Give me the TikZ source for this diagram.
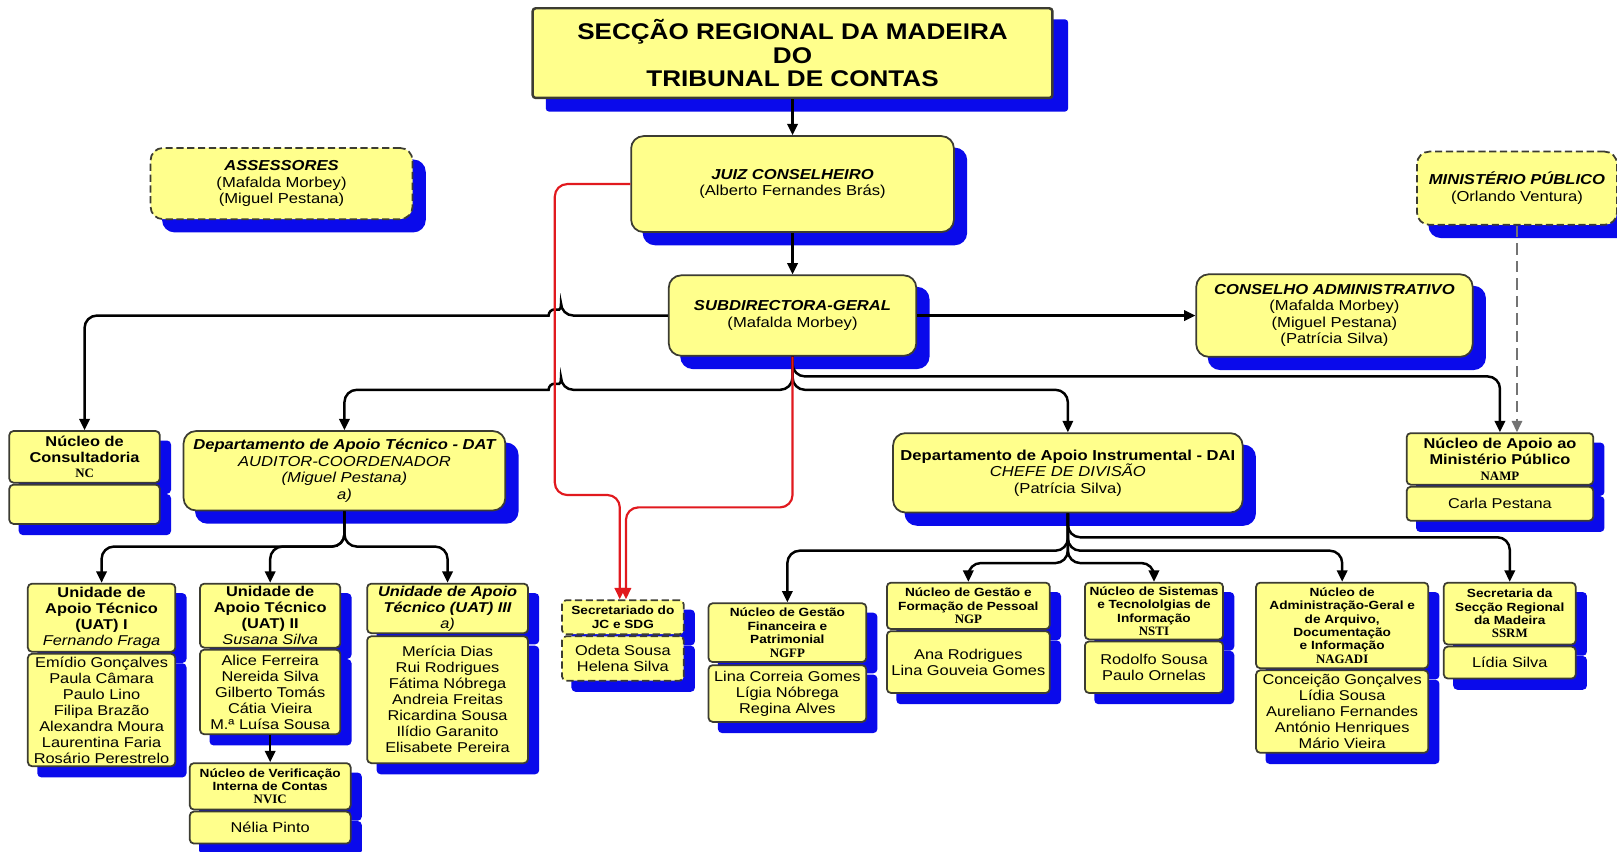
\documentclass[tikz,border=0pt]{standalone}
\usepackage{fontspec}
\setmainfont{Liberation Sans}[FakeStretch=1.15]
\newfontfamily\acrfont{Liberation Serif}
\usetikzlibrary{arrows.meta,calc,backgrounds}

\definecolor{boxfill}{RGB}{255,255,140}
\definecolor{boxline}{RGB}{60,60,50}
\definecolor{shadeblue}{RGB}{10,10,235}
\definecolor{redline}{RGB}{225,25,30}

\newcommand\bigtxt{\fontsize{14}{16}\selectfont}
\newcommand\nametxt{\fontsize{13.8}{15.5}\selectfont}
\newcommand\headtxt{\fontsize{11.5}{13}\selectfont\bfseries}
\newcommand\acr[1]{{\acrfont\bfseries\fontsize{12.5}{13}\selectfont #1}}

\tikzset{every picture/.style={line width=0.75pt},
  bigbox/.style={draw=boxline, line width=1.7pt, fill=boxfill, rounded corners=12, align=center, inner sep=0pt, font=\bigtxt},
  smallbox/.style={bigbox, rounded corners=4, font=\nametxt},
  headbox/.style={smallbox, font=\headtxt},
  dashbox/.style={dash pattern=on 7pt off 3.5pt},
  orgarrow/.style={draw=black, line width=2.4pt, rounded corners=12, -{Triangle[length=11pt,width=10pt]}},
  redarrow/.style={orgarrow, draw=redline, line width=2.1pt},
  dasharrow/.style={orgarrow, draw=black!55, line width=2pt, dash pattern=on 11pt off 6pt}
}

\begin{document}
\begin{tikzpicture}[x=1pt,y=1pt,yscale=-1,xscale=1]
\useasboundingbox (0,0) rectangle (1568,826);

%Shape: top boxes
\node[bigbox, rounded corners=3, line width=2.4pt, minimum width=504, minimum height=87, font=\fontsize{22}{23}\selectfont\bfseries] (title) at (768.5,51.5) {SECÇÃO REGIONAL DA MADEIRA\\DO\\TRIBUNAL DE CONTAS};
\node[bigbox, minimum width=313, minimum height=93] (jc) at (768.5,178.5) {\textbf{\textit{JUIZ CONSELHEIRO}}\\(Alberto Fernandes Brás)};
\node[bigbox, minimum width=240, minimum height=78] (sub) at (768.5,306) {\textbf{\textit{SUBDIRECTORA-GERAL}}\\(Mafalda Morbey)};
\node[bigbox, dashbox, minimum width=254, minimum height=69] (ass) at (273,178) {\textbf{\textit{ASSESSORES}}\\(Mafalda Morbey)\\(Miguel Pestana)};
\node[bigbox, dashbox, minimum width=194, minimum height=71] (mp) at (1471,182.5) {\textbf{\textit{MINISTÉRIO PÚBLICO}}\\(Orlando Ventura)};
\node[bigbox, minimum width=268, minimum height=80] (cons) at (1294,306) {\textbf{\textit{CONSELHO ADMINISTRATIVO}}\\(Mafalda Morbey)\\(Miguel Pestana)\\(Patrícia Silva)};

%Shape: second level
\node[smallbox, font=\nametxt\bfseries, minimum width=146, minimum height=50] (nc) at (82,443) {Núcleo de\\Consultadoria\\\acr{NC}};
\node[smallbox, minimum width=146, minimum height=38] (ncb) at (82,489) {};
\node[bigbox, font=\bigtxt\itshape, minimum width=312, minimum height=77] (dat) at (334,456.5) {\textbf{Departamento de Apoio Técnico - DAT}\\AUDITOR-COORDENADOR\\(Miguel Pestana)\\a)};
\node[bigbox, minimum width=339, minimum height=77] (dai) at (1035.5,458.5) {\textbf{Departamento de Apoio Instrumental - DAI}\\\textit{CHEFE DE DIVISÃO}\\(Patrícia Silva)};
\node[smallbox, font=\nametxt\bfseries, minimum width=181, minimum height=50] (namp) at (1454.5,445) {Núcleo de Apoio ao\\Ministério Público\\\acr{NAMP}};
\node[smallbox, minimum width=181, minimum height=33] (nampb) at (1454.5,488.5) {Carla Pestana};

%Shape: units of DAT
\node[smallbox, font=\nametxt\bfseries, minimum width=143, minimum height=66] (uat1) at (98.5,599) {Unidade de\\Apoio Técnico\\(UAT) I\\\textmd{\textit{Fernando Fraga}}};
\node[smallbox, minimum width=143, minimum height=109] (uat1b) at (98.5,688.5) {Emídio Gonçalves\\Paula Câmara\\Paulo Lino\\Filipa Brazão\\Alexandra Moura\\Laurentina Faria\\Rosário Perestrelo};
\node[smallbox, font=\nametxt\bfseries, minimum width=136, minimum height=62] (uat2) at (262,597) {Unidade de\\Apoio Técnico\\(UAT) II\\\textmd{\textit{Susana Silva}}};
\node[smallbox, minimum width=136, minimum height=82] (uat2b) at (262,671) {Alice Ferreira\\Nereida Silva\\Gilberto Tomás\\Cátia Vieira\\M.ª Luísa Sousa};
\node[smallbox, font=\nametxt\bfseries\itshape, minimum width=156, minimum height=48] (uat3) at (434,590) {Unidade de Apoio\\Técnico (UAT) III\\\textmd{a)}};
\node[smallbox, minimum width=156, minimum height=123] (uat3b) at (434,678.5) {Merícia Dias\\Rui Rodrigues\\Fátima Nóbrega\\Andreia Freitas\\Ricardina Sousa\\Ilídio Garanito\\Elisabete Pereira};
\node[headbox, minimum width=156, minimum height=45] (nvic) at (262,762.5) {Núcleo de Verificação\\Interna de Contas\\\acr{NVIC}};
\node[smallbox, minimum width=156, minimum height=31] (nvicb) at (262,802.5) {Nélia Pinto};

%Shape: secretariado
\node[headbox, dashbox, minimum width=118, minimum height=33] (sec) at (604,598.5) {Secretariado do\\JC e SDG};
\node[smallbox, dashbox, minimum width=118, minimum height=43] (secb) at (604,638.5) {Odeta Sousa\\Helena Silva};

%Shape: units of DAI
\node[headbox, minimum width=153, minimum height=57] (ngfp) at (763.5,613.5) {Núcleo de Gestão\\Financeira e\\Patrimonial\\\acr{NGFP}};
\node[smallbox, minimum width=153, minimum height=55] (ngfpb) at (763.5,672.5) {Lina Correia Gomes\\Lígia Nóbrega\\Regina Alves};
\node[headbox, minimum width=158, minimum height=45] (ngp) at (939,587.5) {Núcleo de Gestão e\\Formação de Pessoal\\\acr{NGP}};
\node[smallbox, minimum width=158, minimum height=60] (ngpb) at (939,642) {Ana Rodrigues\\Lina Gouveia Gomes};
\node[headbox, minimum width=134, minimum height=55] (nsti) at (1119,592.5) {Núcleo de Sistemas\\e Tecnololgias de\\Informação\\\acr{NSTI}};
\node[smallbox, minimum width=134, minimum height=50] (nstib) at (1119,647) {Rodolfo Sousa\\Paulo Ornelas};
\node[headbox, minimum width=167, minimum height=83] (nagadi) at (1301.5,606.5) {Núcleo de\\Administração-Geral e\\de Arquivo,\\Documentação\\e Informação\\\acr{NAGADI}};
\node[smallbox, minimum width=167, minimum height=80] (nagadib) at (1301.5,690) {Conceição Gonçalves\\Lídia Sousa\\Aureliano Fernandes\\António Henriques\\Mário Vieira};
\node[headbox, minimum width=128, minimum height=60] (ssrm) at (1464,595) {Secretaria da\\Secção Regional\\da Madeira\\\acr{SSRM}};
\node[smallbox, minimum width=128, minimum height=31] (ssrmb) at (1464,642.5) {Lídia Silva};

%Shape: shadows
\begin{scope}[on background layer]
\fill[shadeblue, rounded corners=3] ($(title.north west)+(14,12)$) rectangle ($(title.south east)+(14,12)$);
\foreach \n in {jc,sub,ass,mp,cons,dat,dai}
  \fill[shadeblue, rounded corners=12] ($(\n.north west)+(12,12)$) rectangle ($(\n.south east)+(12,12)$);
\foreach \n in {nc,ncb,namp,nampb,uat1,uat1b,uat2,uat2b,uat3,uat3b,nvic,nvicb,sec,secb,ngfp,ngfpb,ngp,ngpb,nsti,nstib,nagadi,nagadib,ssrm,ssrmb}
  \fill[shadeblue, rounded corners=4] ($(\n.north west)+(10,10)$) rectangle ($(\n.south east)+(10,10)$);
\end{scope}

%Straight Lines
\coordinate (subA) at (768.5,365);
\coordinate (subB) at (768.5,378);
\coordinate (datB) at (334,530);
\coordinate (daiA) at (1035.5,521);
\coordinate (daiB) at (1035.5,534);
\coordinate (daiC) at (1035.5,546);
\coordinate (redv) at (538,480);
\coordinate (redh) at (768.5,492);

\draw[orgarrow] (title.south) -- (jc.north);
\draw[orgarrow] (jc.south) -- (sub.north);
\draw[orgarrow] (sub.west) -- ($(redv |- sub.west)+(6,0)$) [sharp corners] arc[start angle=0,end angle=-180,radius=6] [rounded corners=12] -| (nc.north);
\draw[orgarrow] (sub.east) -- (cons.west);
\draw[orgarrow] (sub.south) -- (subA) -| (namp.north);
\draw[orgarrow] (sub.south) -- (subB) -| (dai.north);
\draw[orgarrow] (sub.south) -- (subB) -- ($(redv |- subB)+(6,0)$) [sharp corners] arc[start angle=0,end angle=-180,radius=6] [rounded corners=12] -| (dat.north);
\foreach \c in {uat1,uat2,uat3}
  \draw[orgarrow] (dat.south) -- (datB) -| (\c.north);
\draw[orgarrow] (uat2b.south) -- (nvic.north);
\draw[orgarrow] (dai.south) -- (daiA) -| (ssrm.north);
\foreach \c in {ngfp,nagadi}
  \draw[orgarrow] (dai.south) -- (daiB) -| (\c.north);
\foreach \c in {ngp,nsti}
  \draw[orgarrow] (dai.south) -- (daiC) -| (\c.north);
\draw[dasharrow] (mp.south) -- (mp.south |- namp.north);

% red lines to the secretariado
\draw[redarrow] (jc.west) -| (redv) -| ($(sec.north)+(-3,0)$);
\draw[redarrow] (sub.south) -- (redh) -| ($(sec.north)+(3,0)$);

\end{tikzpicture}
\end{document}
